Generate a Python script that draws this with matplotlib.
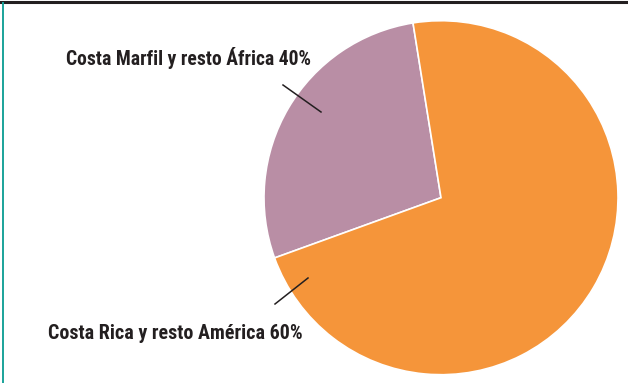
import matplotlib.pyplot as plt
from matplotlib.lines import Line2D
from matplotlib import font_manager

# data (slice sizes as drawn, labels as printed)
regions = ["Costa Marfil y resto África", "Costa Rica y resto América"]
label_pct = [40, 60]
drawn_share = [28, 72]
colors = ["#b98ea5", "#f5953a"]

W, H = 628, 383
fig = plt.figure(figsize=(W / 100, H / 100), dpi=100)
fig.patch.set_facecolor("white")

# pie: centre (441, 198) px, radius 177 px
cx, cy, r = 441, 197.7, 177
ax = fig.add_axes([(cx - r) / W, 1 - (cy + r) / H, 2 * r / W, 2 * r / H])
ax.pie(drawn_share, colors=colors, startangle=99.1, counterclock=True,
       wedgeprops=dict(edgecolor="white", linewidth=1.2))
ax.set_xlim(-1, 1)
ax.set_ylim(-1, 1)
ax.set_aspect("auto")
ax.axis("off")

def px(x, y):
    return x / W, 1 - y / H

# frame: dark bar on top, teal rule on the left
fig.add_artist(Line2D([0, 1], [1 - 1.5 / H] * 2, color="#231f20", lw=2.2,
                      transform=fig.transFigure))
fig.add_artist(Line2D([2.5 / W] * 2, [0, 1 - 3 / H], color="#1aa39a", lw=1.4,
                      transform=fig.transFigure))

# leader lines
for (x0, y0), (x1, y1) in [((283, 85), (321, 112)), ((275, 304), (308, 278))]:
    (a, b), (c, d) = px(x0, y0), px(x1, y1)
    fig.add_artist(Line2D([a, c], [b, d], color="#231f20", lw=1.1,
                          transform=fig.transFigure))

# pick a narrow font if one is around
names = {f.name for f in font_manager.fontManager.ttflist}
print(sorted(n for n in names if "Narrow" in n or "Condensed" in n or "Cond" in n))
fam = [n for n in ["Liberation Sans Narrow", "DejaVu Sans Condensed", "Roboto Condensed"]
       if n in names] + ["DejaVu Sans"]

# labels
label_pos = [(66, 65, 246), (48, 339, 254)]
renderer = fig.canvas.get_renderer()
for name, pct, (x, y, target_w) in zip(regions, label_pct, label_pos):
    t = fig.text(*px(x, y), f"{name} {pct}%", family=fam, weight="bold",
                 stretch="condensed", fontsize=14, color="#231f20",
                 ha="left", va="baseline")
    w = t.get_window_extent(renderer).width
    t.set_fontsize(14 * target_w / w)

fig.savefig("out.png", dpi=100, facecolor="white")
